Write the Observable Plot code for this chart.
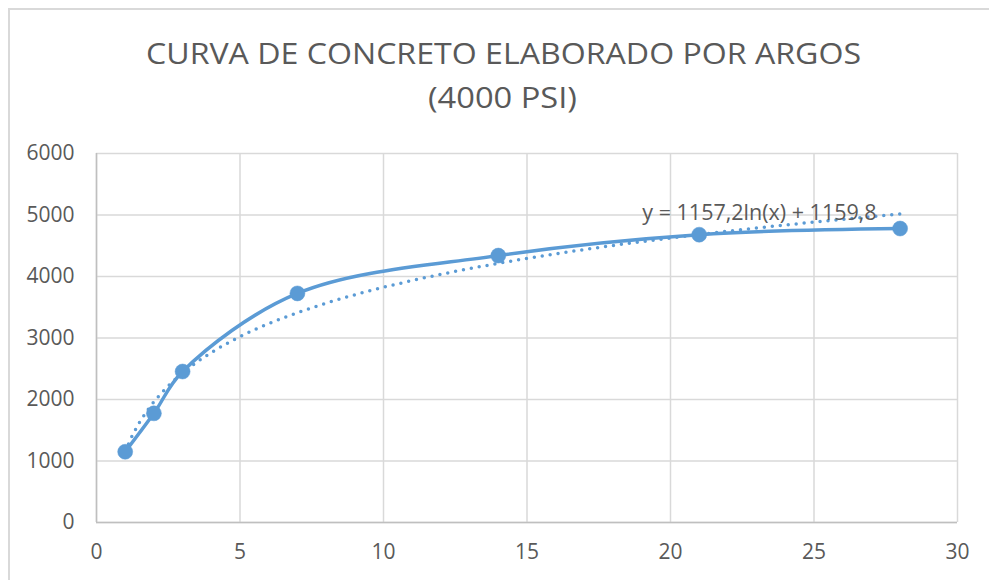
<!DOCTYPE html>
<html>
<head>
<meta charset="utf-8">
<script src="https://cdn.jsdelivr.net/npm/d3@7"></script>
<script src="https://cdn.jsdelivr.net/npm/@observablehq/plot@0.6"></script>
<style>
  body { margin: 0; background: #fff; }
  #wrap { position: relative; width: 989px; height: 580px; overflow: hidden; background: #fff; font-family: "Open Sans", sans-serif; }
  #frame { position: absolute; left: 8px; top: 8px; width: 1200px; height: 800px; border-left: 2px solid #d9d9d9; border-top: 2px solid #d9d9d9; }
  #title { position: absolute; left: 0; top: 0; }
  #plot { position: absolute; left: 0; top: 120px; }
</style>
</head>
<body>
<div id="wrap">
  <div id="frame"></div>
  <svg id="title" width="989" height="120">
    <text x="503.5" y="64" text-anchor="middle" font-family="Open Sans" font-size="30" fill="#595959" textLength="715" lengthAdjust="spacingAndGlyphs">CURVA DE CONCRETO ELABORADO POR ARGOS</text>
    <text x="502.5" y="108" text-anchor="middle" font-family="Open Sans" font-size="30" fill="#595959" textLength="149" lengthAdjust="spacingAndGlyphs">(4000 PSI)</text>
  </svg>
  <div id="plot"></div>
</div>
<script>
// Data: age in days vs compressive strength (psi)
const days = [1, 2, 3, 7, 14, 21, 28];
const strength = [1150, 1775, 2455, 3725, 4340, 4680, 4780];
const xTicks = [0, 5, 10, 15, 20, 25, 30];
const yTicks = [0, 1000, 2000, 3000, 4000, 5000, 6000];
// Trendline as printed on the chart: y = 1157,2 ln(x) + 1159,8
const trendA = 1157.2;
const trendB = 1159.8;
const trendLabel = "y = 1157,2ln(x) + 1159,8";
const trendLabelX = 23.1;
const trendLabelY = 5030;

const points = days.map((d, i) => ({x: d, y: strength[i]}));
const trendXs = d3.range(1, 28.001, 0.25);
const trend = trendXs.map(x => ({x, y: trendA * Math.log(x) + trendB}));

const blue = "#5B9BD5";
const grid = "#d9d9d9";
const textColor = "#595959";

const chart = Plot.plot({
  width: 989,
  height: 460,
  marginTop: 33,
  marginBottom: 58,
  marginLeft: 96,
  marginRight: 32,
  style: {fontFamily: "Open Sans", fontSize: "21px", color: textColor, background: "transparent"},
  x: {domain: [0, 30], ticks: xTicks, label: null},
  y: {domain: [0, 6000], ticks: yTicks, label: null},
  marks: [
    Plot.gridX(xTicks, {stroke: grid, strokeOpacity: 1, strokeWidth: 1.5}),
    Plot.gridY(yTicks, {stroke: grid, strokeOpacity: 1, strokeWidth: 1.5}),
    Plot.ruleX([0], {stroke: "#bfbfbf", strokeWidth: 1.5}),
    Plot.ruleY([0], {stroke: "#bfbfbf", strokeWidth: 1.5}),
    Plot.axisX({ticks: xTicks, tickFormat: d => String(d), tickSize: 0, tickPadding: 22, fill: textColor, fontSize: 21}),
    Plot.axisY({ticks: yTicks, tickFormat: d => String(d), tickSize: 0, tickPadding: 22, fill: textColor, fontSize: 21}),
    Plot.line(trend, {x: "x", y: "y", stroke: blue, strokeWidth: 3.5, strokeDasharray: "0,8", strokeLinecap: "round"}),
    Plot.line(points, {x: "x", y: "y", stroke: blue, strokeWidth: 3.5, curve: "catmull-rom"}),
    Plot.dot(points, {x: "x", y: "y", r: 7.5, fill: blue, stroke: blue, strokeWidth: 0.5}),
    Plot.text([trendLabel], {x: trendLabelX, y: trendLabelY, text: d => d, fill: textColor, fontSize: 21.5, textAnchor: "middle", lineAnchor: "middle"})
  ]
});
document.getElementById("plot").appendChild(chart);
</script>
</body>
</html>
